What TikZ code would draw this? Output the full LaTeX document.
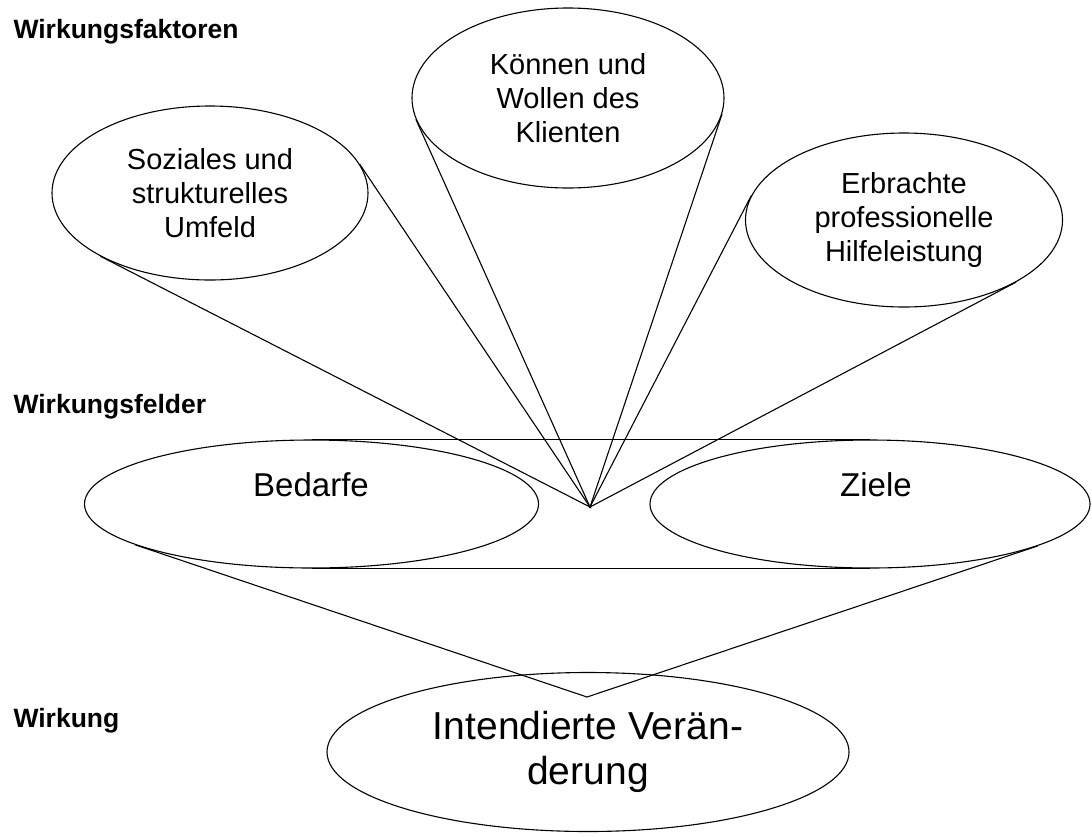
\documentclass[tikz,border=0pt]{standalone}
\usepackage{fontspec}
\setmainfont{Liberation Sans}
\usetikzlibrary{shapes.geometric}
\begin{document}
\begin{tikzpicture}[x=1pt,y=-1pt,line width=1.1pt,
  ell/.style={draw, ellipse, inner sep=0pt, align=center},
  small/.style={font=\fontsize{29}{34}\selectfont},
  mid/.style={font=\fontsize{33}{38}\selectfont},
  big/.style={font=\fontsize{39}{45}\selectfont},
  lbl/.style={font=\fontsize{26.5}{30}\selectfont\bfseries, anchor=base west, inner sep=0pt},
  conn/.style={draw, line join=miter}]
\useasboundingbox (0,0) rectangle (1092,836);

% level labels
\node[lbl] (l1) at (13,38) {Wirkungsfaktoren};
\node[lbl] (l2) at (13,413) {Wirkungsfelder};
\node[lbl] (l3) at (13,727) {Wirkung};

% factor ellipses
\node[ell, small, minimum width=316pt, minimum height=174pt] (soz) at (210,193) {Soziales und\\strukturelles\\Umfeld};
\node[ell, small, minimum width=312pt, minimum height=180pt] (kon) at (568,98) {Können und\\Wollen des\\Klienten};
\node[ell, small, minimum width=317pt, minimum height=174pt] (erb) at (904,220) {Erbrachte\\professionelle\\Hilfeleistung};

% field ellipses
\node[ell, minimum width=454pt, minimum height=128pt] (bed) at (311.5,504) {};
\node[ell, minimum width=440pt, minimum height=128pt] (zie) at (870,504) {};
\node[mid, inner sep=0pt] (bedt) at (311,485) {Bedarfe};
\node[mid, inner sep=0pt] (ziet) at (876,485) {Ziele};

% effect ellipse
\node[ell, big, minimum width=522pt, minimum height=159pt] (int) at (588,752) {Intendierte Verän-\\derung};

\coordinate (apex) at (590,507);
\coordinate (bot) at (587,697);

% connectors from factors to the apex
\path[conn] (soz.11.5) -- (apex) -- (soz.210.6);
\path[conn] (kon.188.5) -- (apex) -- (kon.-6.3);
\path[conn] (erb.171) -- (apex) -- (erb.-29.8);

% field band
\path[conn] (bed.north) -- (zie.north);
\path[conn] (bed.south) -- (zie.south);

% fields to effect
\path[conn] (bed.193.2) -- (bot) -- (zie.-14.1);
\end{tikzpicture}
\end{document}
